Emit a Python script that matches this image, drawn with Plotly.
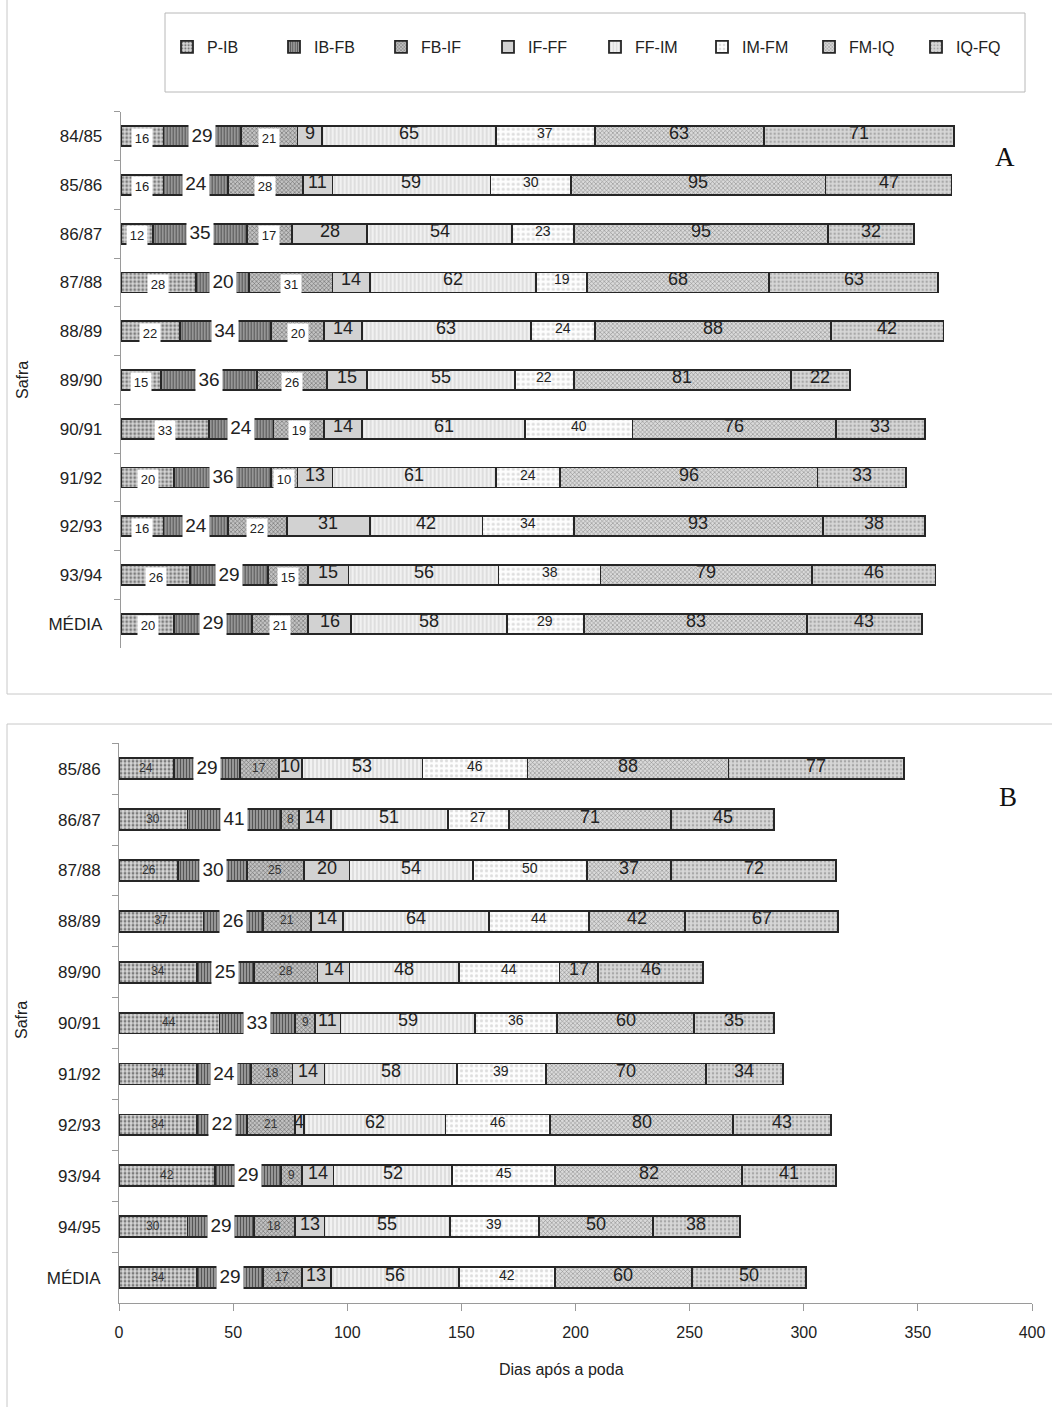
import plotly.graph_objects as go

W, H = 1052, 1407

phases = ["P-IB", "IB-FB", "FB-IF", "IF-FF", "FF-IM", "IM-FM", "FM-IQ", "IQ-FQ"]

# ---------------- Panel A ----------------
safra_a = ["84/85", "85/86", "86/87", "87/88", "88/89", "89/90", "90/91",
           "91/92", "92/93", "93/94", "MÉDIA"]
a_p_ib = [16, 16, 12, 28, 22, 15, 33, 20, 16, 26, 20]
a_ib_fb = [29, 24, 35, 20, 34, 36, 24, 36, 24, 29, 29]
a_fb_if = [21, 28, 17, 31, 20, 26, 19, 10, 22, 15, 21]
a_if_ff = [9, 11, 28, 14, 14, 15, 14, 13, 31, 15, 16]
a_ff_im = [65, 59, 54, 62, 63, 55, 61, 61, 42, 56, 58]
a_im_fm = [37, 30, 23, 19, 24, 22, 40, 24, 34, 38, 29]
a_fm_iq = [63, 95, 95, 68, 88, 81, 76, 96, 93, 79, 83]
a_iq_fq = [71, 47, 32, 63, 42, 22, 33, 33, 38, 46, 43]

# ---------------- Panel B ----------------
safra_b = ["85/86", "86/87", "87/88", "88/89", "89/90", "90/91", "91/92",
           "92/93", "93/94", "94/95", "MÉDIA"]
b_p_ib = [24, 30, 26, 37, 34, 44, 34, 34, 42, 30, 34]
b_ib_fb = [29, 41, 30, 26, 25, 33, 24, 22, 29, 29, 29]
b_fb_if = [17, 8, 25, 21, 28, 9, 18, 21, 9, 18, 17]
b_if_ff = [10, 14, 20, 14, 14, 11, 14, 4, 14, 13, 13]
b_ff_im = [53, 51, 54, 64, 48, 59, 58, 62, 52, 55, 56]
b_im_fm = [46, 27, 50, 44, 44, 36, 39, 46, 45, 39, 42]
b_fm_iq = [88, 71, 37, 42, 17, 60, 70, 80, 82, 50, 60]
b_iq_fq = [77, 45, 72, 67, 46, 35, 34, 43, 41, 38, 50]

x_ticks_b = [0, 50, 100, 150, 200, 250, 300, 350, 400]

series_a = [a_p_ib, a_ib_fb, a_fb_if, a_if_ff, a_ff_im, a_im_fm, a_fm_iq, a_iq_fq]
series_b = [b_p_ib, b_ib_fb, b_fb_if, b_if_ff, b_ff_im, b_im_fm, b_fm_iq, b_iq_fq]

styles = {
    "P-IB": dict(shape=".", fg="#7c7c7c", bg="#d6d6d6", size=4, sol=0.4),
    "IB-FB": dict(shape="|", fg="#555555", bg="#a4a4a4", size=3, sol=0.45),
    "FB-IF": dict(shape="x", fg="#6a6a6a", bg="#c2c2c2", size=3, sol=0.35),
    "IF-FF": dict(shape="", fg="#cfcfcf", bg="#d2d2d2", size=4, sol=0.3),
    "FF-IM": dict(shape="|", fg="#d2d2d2", bg="#f1f1f1", size=4, sol=0.3),
    "IM-FM": dict(shape=".", fg="#dddddd", bg="#fdfdfd", size=5, sol=0.3),
    "FM-IQ": dict(shape="x", fg="#8c8c8c", bg="#dadada", size=3, sol=0.35),
    "IQ-FQ": dict(shape=".", fg="#a8a8a8", bg="#d7d7d7", size=4, sol=0.3),
}

FONT = "Liberation Sans, Arial, sans-serif"
TXT = "#222222"

fig = go.Figure()


def add_panel(cats, series, xa, ya, legend):
    for name, vals in zip(phases, series):
        st = styles[name]
        fig.add_trace(go.Bar(
            y=cats, x=vals, orientation="h", name=name,
            xaxis=xa, yaxis=ya, legendgroup=name, showlegend=legend,
            marker=dict(
                color=st["bg"],
                line=dict(color="#262626", width=1.8),
                pattern=dict(shape=st["shape"], fgcolor=st["fg"], bgcolor=st["bg"],
                             size=st["size"], solidity=st["sol"], fillmode="replace"),
            ),
            hoverinfo="x+y+name",
        ))


add_panel(safra_a, series_a, "x", "y", True)
add_panel(safra_b, series_b, "x2", "y2", False)

annotations = []


def add_labels(cats, series, xr, yr, panel):
    for i, cat in enumerate(cats):
        start = 0
        for k, vals in enumerate(series):
            v = vals[i]
            xc = start + v / 2.0
            start += v
            name = phases[k]
            a = dict(x=xc, y=cat, xref=xr, yref=yr, text=str(v), showarrow=False,
                     xanchor="center", yanchor="middle",
                     font=dict(family=FONT, color=TXT, size=18))
            if name == "IB-FB":
                a.update(bgcolor="white", width=26, height=25, borderpad=0,
                         font=dict(family=FONT, color=TXT, size=19), yshift=1)
            elif name in ("P-IB", "FB-IF"):
                if panel == "A":
                    a.update(bgcolor="white", width=20, height=19, borderpad=0,
                             font=dict(family=FONT, color=TXT, size=13), yshift=-2)
                else:
                    a.update(font=dict(family=FONT, color="#333333", size=12), yshift=1)
            elif name == "IM-FM":
                a.update(font=dict(family=FONT, color=TXT, size=14), yshift=3)
            else:
                a.update(yshift=3)
            annotations.append(a)


add_labels(safra_a, series_a, "x", "y", "A")
add_labels(safra_b, series_b, "x2", "y2", "B")


def px(xp):
    return xp / W


def py(yp):
    return 1 - yp / H


def paper_note(x, y, text, size, family=FONT, angle=0, color=TXT):
    return dict(x=px(x), y=py(y), xref="paper", yref="paper", text=text,
                xanchor="center", yanchor="middle", textangle=angle,
                showarrow=False, font=dict(family=family, size=size, color=color))


SERIF = "Liberation Serif, Times New Roman, serif"
annotations.append(paper_note(1005, 157, "A", 27, SERIF, color="#111"))
annotations.append(paper_note(1008, 797, "B", 27, SERIF, color="#111"))
annotations.append(paper_note(22, 380, "Safra", 16, angle=-90))
annotations.append(paper_note(22, 1020, "Safra", 16, angle=-90))
annotations.append(paper_note(561, 1369, "Dias após a poda", 16))

shapes = [
    dict(type="rect", xref="paper", yref="paper", x0=px(7), x1=px(1070), y0=py(-10), y1=py(694),
         line=dict(color="#c8c8c8", width=1), layer="below"),
    dict(type="rect", xref="paper", yref="paper", x0=px(7), x1=px(1070), y0=py(724), y1=py(1420),
         line=dict(color="#c8c8c8", width=1), layer="below"),
    dict(type="rect", xref="paper", yref="paper", x0=px(165), x1=px(1025), y0=py(13), y1=py(92),
         line=dict(color="#b8b8b8", width=1), layer="below"),
]

A_X0, A_SCALE = 120.7, 2.68
A_RANGE = 340
B_X0, B_X1 = 119, 1032

yaxis_common = dict(type="category", tickson="boundaries", ticks="outside", ticklen=6,
                    tickcolor="#9a9a9a", showline=True, linecolor="#9a9a9a", linewidth=1,
                    showgrid=False, tickfont=dict(family=FONT, size=17, color=TXT),
                    ticklabelstandoff=14, autorange="reversed", fixedrange=True,
                    automargin=False)

fig.update_layout(
    width=W, height=H, autosize=False,
    margin=dict(l=0, r=0, t=0, b=0, pad=0, autoexpand=False),
    paper_bgcolor="white", plot_bgcolor="white",
    barmode="stack", bargap=0.59,
    font=dict(family=FONT, color=TXT),
    showlegend=True,
    legend=dict(orientation="h", x=px(167), y=py(47), xanchor="left", yanchor="middle",
                entrywidth=62, entrywidthmode="pixels", traceorder="normal",
                font=dict(family=FONT, size=16, color=TXT), bgcolor="rgba(0,0,0,0)",
                itemclick=False, itemdoubleclick=False),
    xaxis=dict(domain=[px(A_X0), px(A_X0 + A_RANGE * A_SCALE)], range=[0, A_RANGE],
               visible=False, anchor="y", fixedrange=True, automargin=False),
    yaxis=dict(domain=[py(648.3), py(111.7)], anchor="x",
               categoryorder="array", categoryarray=safra_a, **yaxis_common),
    xaxis2=dict(domain=[px(B_X0), px(B_X1)], range=[0, 400], anchor="y2",
                tickvals=x_ticks_b, ticks="outside", ticklen=7, tickcolor="#9a9a9a",
                showline=True, linecolor="#9a9a9a", linewidth=1, showgrid=False,
                tickfont=dict(family=FONT, size=16, color=TXT), ticklabelstandoff=8,
                zeroline=False, fixedrange=True, automargin=False),
    yaxis2=dict(domain=[py(1303), py(743.3)], anchor="x2",
                categoryorder="array", categoryarray=safra_b, **yaxis_common),
    annotations=annotations,
    shapes=shapes,
)

fig.write_html("out.html", config={"displayModeBar": False},
               post_script="document.body.style.margin='0';"
                           "document.body.style.overflow='hidden';")
